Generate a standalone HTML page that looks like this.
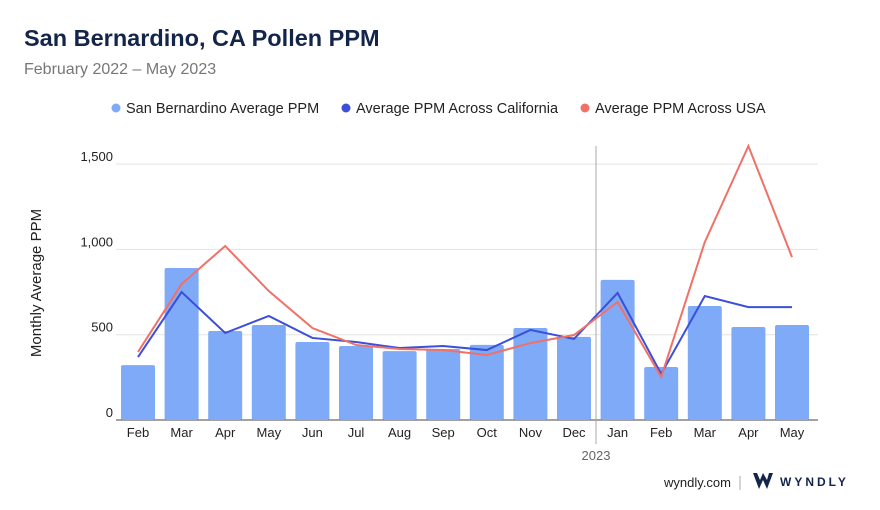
<!DOCTYPE html>
<html><head><meta charset="utf-8"><style>
body{margin:0;background:#fff;font-family:"Liberation Sans",sans-serif;}
#wrap{position:relative;width:880px;height:510px;overflow:hidden;}
</style></head><body>
<div id="wrap">
<svg id="c" width="880" height="510" xmlns="http://www.w3.org/2000/svg">
<text x="24" y="46" font-size="23.5" font-weight="bold" fill="#14254a">San Bernardino, CA Pollen PPM</text>
<text x="24" y="74" font-size="16" fill="#777">February 2022 – May 2023</text>
<g font-size="14.5" fill="#222">
<circle cx="116" cy="108" r="4.5" fill="#7faaf8"/>
<text x="126" y="113">San Bernardino Average PPM</text>
<circle cx="346" cy="108" r="4.5" fill="#3b4fd8"/>
<text x="356" y="113">Average PPM Across California</text>
<circle cx="585" cy="108" r="4.5" fill="#f07167"/>
<text x="595" y="113">Average PPM Across USA</text>
</g>
<text transform="translate(41,283) rotate(-90)" text-anchor="middle" font-size="15" fill="#222">Monthly Average PPM</text>
<g id="grid"></g><g id="bars"></g><g id="lines"></g><g id="xl"></g>
<text x="596" y="460" text-anchor="middle" font-size="13" fill="#666">2023</text>
<text x="731" y="487" text-anchor="end" font-size="13" fill="#222">wyndly.com</text>
<line x1="740" y1="476" x2="740" y2="490" stroke="#aaa"/>
<path d="M753 473 L759 489 L763 480 L767 489 L773 473 L769 473 L767 480 L763 473 L760 480 L757 473Z" fill="#14254a"/>
<text x="780" y="486" font-size="12" font-weight="bold" letter-spacing="3" fill="#14254a">WYNDLY</text>
</svg>
<script>
const categories=["Feb","Mar","Apr","May","Jun","Jul","Aug","Sep","Oct","Nov","Dec","Jan","Feb","Mar","Apr","May"];
const sanBernardino=[322,891,522,557,457,434,404,416,440,539,487,821,311,668,545,557];
const california=[369,750,510,610,481,457,422,434,410,528,475,745,270,727,662,662];
const usa=[399,797,1020,756,539,440,416,410,381,451,498,692,252,1043,1606,955];
const yTicks=[0,500,1000,1500];
const yTickLabels=["0","500","1,000","1,500"];
const NS="http://www.w3.org/2000/svg";
const x=i=>138+i*43.6, y=v=>420-v*85.3/500;
function mk(t,a,p){const e=document.createElementNS(NS,t);for(const k in a)e.setAttribute(k,a[k]);p.appendChild(e);return e;}
const G=document.getElementById('grid'),B=document.getElementById('bars'),L=document.getElementById('lines'),X=document.getElementById('xl');
yTicks.forEach((t,i)=>{
 const l=mk('line',{x1:116,x2:818,y1:y(t),y2:y(t),stroke:t?'#e3e3e3':'#444','stroke-width':1},G);
 
 
 const tx=mk('text',{x:113,y:y(t)-3,'text-anchor':'end','font-size':13,fill:'#222'},G);tx.textContent=yTickLabels[i];
 
 
});
const sep=mk('line',{x1:596,x2:596,y1:146,y2:444,stroke:'#aaa','stroke-width':1},G);


sanBernardino.forEach((v,i)=>{
 const r=mk('rect',{x:x(i)-17,y:y(v),width:34,height:y(0)-y(v),fill:'#7faaf8',rx:2},B);
 
 
});
[[california,'#3b4fd8','california-line'],[usa,'#f07167','usa-line']].forEach(([d,c,n])=>{
 const p=mk('polyline',{points:d.map((v,i)=>x(i)+','+y(v)).join(' '),fill:'none',stroke:c,'stroke-width':2},L);
 
 
});
categories.forEach((c,i)=>{
 const t=mk('text',{x:x(i),y:437,'text-anchor':'middle','font-size':13,fill:'#222'},X);t.textContent=c;
 
 
});
</script>
</div></body></html>
